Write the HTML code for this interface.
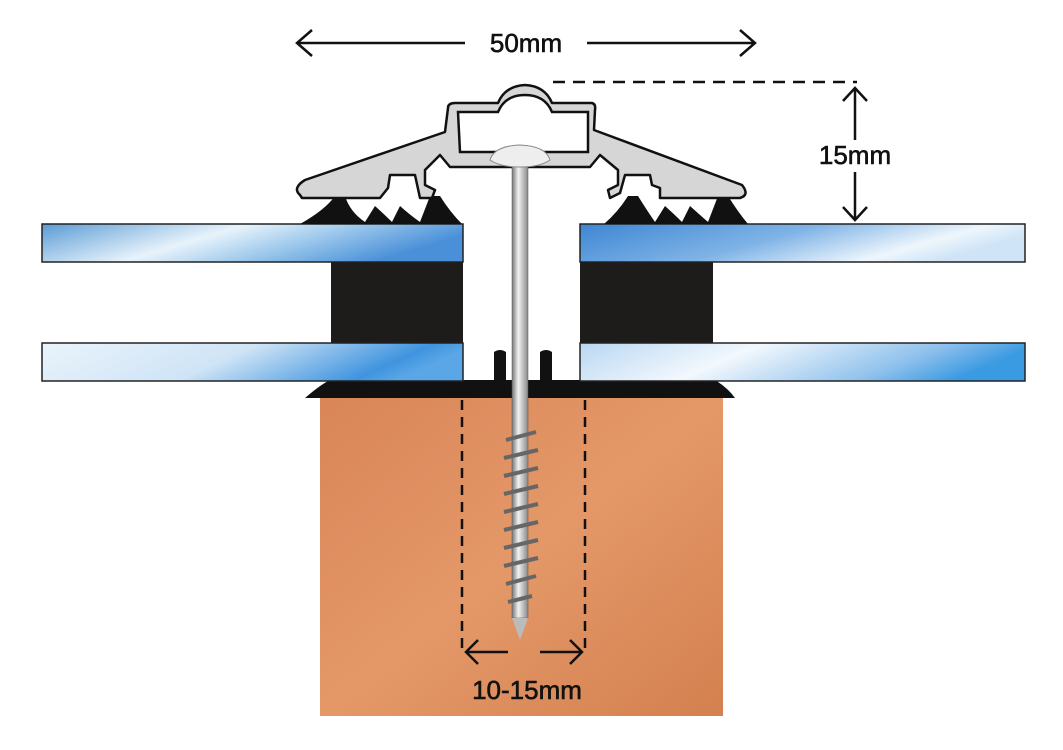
<!DOCTYPE html>
<html><head><style>body{margin:0;background:#fff}svg{display:block}</style></head><body>
<svg width="1063" height="750" viewBox="0 0 1063 750" xmlns="http://www.w3.org/2000/svg">
<defs>
<linearGradient id="gl" x1="0" y1="0" x2="1" y2="0.3">
<stop offset="0" stop-color="#5b9bd5"/><stop offset="0.45" stop-color="#e8f3fb"/><stop offset="0.7" stop-color="#9cc8ec"/><stop offset="1" stop-color="#4a90d9"/></linearGradient>
<linearGradient id="gr" x1="0" y1="0" x2="1" y2="0.3">
<stop offset="0" stop-color="#3d86d3"/><stop offset="0.5" stop-color="#7fb3e6"/><stop offset="0.85" stop-color="#eef6fc"/><stop offset="1" stop-color="#cfe5f7"/></linearGradient>
<linearGradient id="gb" x1="0" y1="0" x2="1" y2="0.2">
<stop offset="0" stop-color="#eaf4fb"/><stop offset="0.5" stop-color="#cfe4f6"/><stop offset="0.9" stop-color="#3f94df"/><stop offset="1" stop-color="#5aa6e6"/></linearGradient>
<linearGradient id="gbr" x1="0" y1="0" x2="1" y2="0.2">
<stop offset="0" stop-color="#b9d7f2"/><stop offset="0.4" stop-color="#f2f8fd"/><stop offset="0.8" stop-color="#8dc0ec"/><stop offset="1" stop-color="#3a9ae2"/></linearGradient>
<linearGradient id="wood" x1="0" y1="0" x2="1" y2="1">
<stop offset="0" stop-color="#d98558"/><stop offset="0.5" stop-color="#e49868"/><stop offset="1" stop-color="#d4804f"/></linearGradient>
<linearGradient id="scr" x1="0" y1="0" x2="1" y2="0">
<stop offset="0" stop-color="#777"/><stop offset="0.4" stop-color="#f2f2f2"/><stop offset="1" stop-color="#888"/></linearGradient>
</defs>
<rect x="320" y="396" width="403" height="320" fill="url(#wood)"/>
<path d="M305 398 Q320 385 330 380 L715 380 Q728 388 735 398 Z" fill="#111"/>
<path d="M494 383 L494 352 Q500 348 506 352 L506 380 Z M540 380 L540 352 Q546 348 552 352 L552 383 Z" fill="#111"/>
<rect x="331" y="262" width="132" height="81" fill="#1e1b1b"/>
<rect x="580" y="262" width="133" height="81" fill="#1e1b1b"/>
<rect x="42" y="224" width="421" height="38" fill="url(#gl)" stroke="#222" stroke-width="1.5"/>
<rect x="580" y="224" width="445" height="38" fill="url(#gr)" stroke="#222" stroke-width="1.5"/>
<rect x="42" y="343" width="421" height="38" fill="url(#gb)" stroke="#222" stroke-width="1.5"/>
<rect x="580" y="343" width="445" height="38" fill="url(#gbr)" stroke="#222" stroke-width="1.5"/>
<path d="M300 224 Q325 210 335 196 L345 196 Q350 212 365 222 L375 206 Q385 215 392 222 L400 206 Q410 215 420 222 L430 196 L440 196 Q450 212 462 224 Z" fill="#111"/>
<path d="M604 224 Q618 212 628 196 L638 196 Q648 212 655 222 L665 206 Q675 215 682 222 L690 206 Q700 215 708 222 L718 196 L728 196 Q738 212 748 224 Z" fill="#111"/>
<path d="M300 195 Q292 188 305 180 L445 132 L448 108 Q448 103 455 103 L498 103 Q505 86 525 85 Q545 86 552 103 L592 103 Q596 104 595 110 L594 130 L742 185 Q750 195 740 198 L660 198 L660 188 L652 185 L650 175 L625 175 L620 193 L610 198 L608 190 L618 185 L618 170 L600 155 L590 167 L450 167 L440 155 L425 170 L425 185 L435 190 L432 198 L420 198 L415 175 L390 175 L388 188 L380 198 L302 198 Z" fill="#d6d6d6" stroke="#111" stroke-width="2.5" stroke-linejoin="round"/>
<path d="M458 112 L498 112 Q505 95 525 95 Q545 95 552 112 L588 112 L588 152 L460 152 Z" fill="#fff" stroke="#111" stroke-width="2.5"/>
<rect x="512" y="158" width="16" height="460" fill="url(#scr)" stroke="#555" stroke-width="0.5"/>
<path d="M512 618 L520 640 L528 618 Z" fill="#bbb"/>
<path d="M490 160 Q494 146 520 145 Q546 146 550 160 Q540 167 520 167 Q500 167 490 160 Z" fill="#eee" stroke="#888"/>
<g stroke="#666" stroke-width="4" fill="none">
<path d="M506 440 L536 432 M504 458 L538 450 M504 476 L538 468 M504 494 L538 486 M504 512 L538 504 M504 530 L538 522 M504 548 L538 540 M504 566 L538 558 M506 584 L536 576 M508 602 L532 596"/></g>
<g stroke="#111" stroke-width="2.5" fill="none">
<path d="M297 43 L465 43 M587 43 L755 43 M312 30 L297 43 L312 56 M740 30 L755 43 L740 56"/>
<path d="M855 88 L855 140 M855 172 L855 220 M843 101 L855 88 L867 101 M843 207 L855 220 L867 207"/>
<path d="M553 82 L857 82" stroke-dasharray="12 8"/>
<path d="M462 400 L462 650 M585 400 L585 650" stroke-dasharray="10 7"/>
<path d="M466 652 L508 652 M540 652 L582 652 M478 640 L466 652 L478 664 M570 640 L582 652 L570 664"/>
</g>
<g font-family="Liberation Sans, sans-serif" font-size="26" fill="#111" text-anchor="middle" stroke="#111" stroke-width="0.6">
<text x="526" y="52">50mm</text>
<text x="855" y="164">15mm</text>
<text x="527" y="699">10-15mm</text>
</g>
</svg>
</body></html>
